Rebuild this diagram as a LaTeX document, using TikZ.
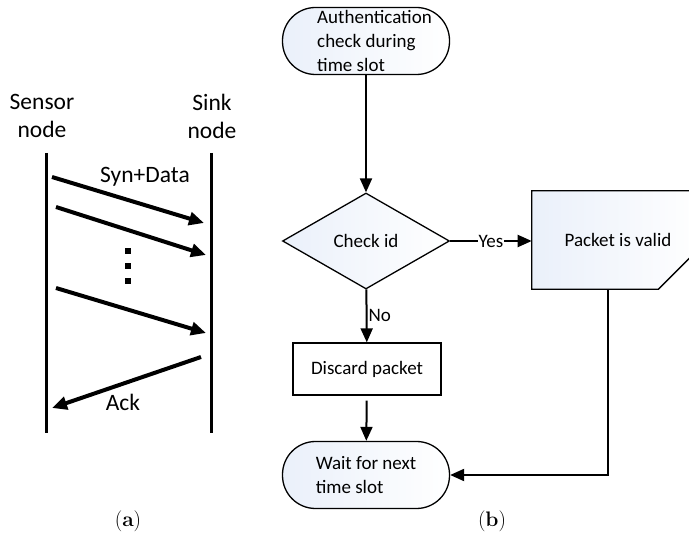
\documentclass[tikz,border=0pt]{standalone}
\usepackage{fontspec}
\newfontfamily\calibri{Carlito}
\usetikzlibrary{arrows.meta,shapes.misc,shapes.geometric,positioning,backgrounds}
\definecolor{paleblue}{RGB}{234,240,250}

\begin{document}
\begin{tikzpicture}[x=1pt, y=-1pt, semithick, inner sep=2pt,
  flow/.style={line width=2pt, -{Triangle[length=14pt,width=12pt]}},
  msg/.style={line width=4pt, -{Triangle[length=15pt,width=13pt]}},
  lifeline/.style={line width=3pt},
  lightfill/.style={left color=paleblue, right color=white},
  bigtext/.style={font=\calibri\fontsize{23.5}{28}\selectfont},
  boxtext/.style={font=\calibri\fontsize{19}{24}\selectfont},
  terminal/.style={rectangle, rounded corners=33pt, draw, line width=1.3pt, lightfill, boxtext,
    minimum width=167pt, minimum height=67pt, inner ysep=0pt, align=left},
  decision/.style={diamond, draw, line width=1.3pt, lightfill, boxtext,
    minimum width=167pt, minimum height=96pt, inner sep=0pt},
  process/.style={rectangle, draw, line width=1.3pt, fill=white, boxtext,
    minimum width=148pt, minimum height=52pt},
  caption/.style={font=\fontsize{21}{24}\selectfont}]
\useasboundingbox (0,0) rectangle (689,537);
%
% (a) sensor and sink
%
\node (sensor) [bigtext, align=center] at (42,116) {Sensor\\node};
\node (sink) [bigtext, align=center] at (212,116) {Sink\\node};
\coordinate (s top) at (46,153);
\coordinate (s bot) at (46,433);
\coordinate (k top) at (211,153);
\coordinate (k bot) at (211,433);
\draw[lifeline] (s top) -- (s bot);
\draw[lifeline] (k top) -- (k bot);
%
\coordinate (a1) at (52,177);  \coordinate (b1) at (204,223);
\coordinate (a2) at (56,207);  \coordinate (b2) at (206,255);
\coordinate (a3) at (56,288);  \coordinate (b3) at (206,333);
\coordinate (a4) at (201,357); \coordinate (b4) at (52,408);
\draw[msg] (a1) -- (b1);
\draw[msg] (a2) -- (b2);
\draw[msg] (a3) -- (b3);
\draw[msg] (a4) -- (b4);
\foreach \y in {251,266,281}
  \fill (125,\y-3) rectangle (131,\y+3);
\node (syn) [bigtext] at (145,177) {Syn+Data};
\node (ack) [bigtext] at (123,402) {Ack};
\node (capa) [caption] at (128,521) {(\textbf{a})};
%
% (b) flowchart
%
\node (start) [terminal] at (366,41)
  {\hspace*{17pt}Authentication\\\hspace*{17pt}check during\\\hspace*{17pt}time slot};
\node (check) [decision] at (366,241) {Check id};
\node (valid) [boxtext, minimum width=172pt, minimum height=98pt] at (618,240) {Packet is valid};
\node (discard) [process] at (367,369) {Discard packet};
\node (wait) [terminal] at (366,475) {Wait for next\\time slot};
\node (capb) [caption] at (492,521) {(\textbf{b})};
%
\begin{scope}[on background layer]
\draw[line width=1.3pt, lightfill] (valid.north west) -- (valid.north east)
  -- ([yshift=46pt]valid.south east) -- ([xshift=-46pt]valid.south east)
  -- (valid.south west) -- cycle;
\end{scope}
%
\draw[flow] (start) -- (check);
\draw[flow] (check.east) -- node[boxtext, fill=white, inner sep=0.5pt] {Yes} (check.east -| valid.west);
\draw[flow] (check) -- node[boxtext, right, inner sep=1pt] {No} (discard);
\draw[flow, shorten <=5pt] (discard) -- (wait);
\draw[flow] ([xshift=-10pt]valid.south) |- (wait.east);
\end{tikzpicture}
\end{document}
